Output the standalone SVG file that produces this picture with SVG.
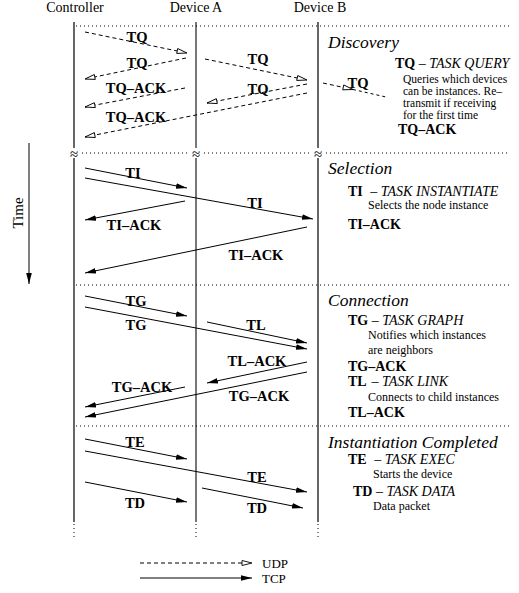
<svg xmlns="http://www.w3.org/2000/svg" width="519" height="593" viewBox="0 0 519 593">
<style>
  text { font-family: "Liberation Serif", "Times New Roman", serif; fill: #000; }
  .hdr { font-size: 14px; }
  .lbl { font-size: 14.5px; font-weight: bold; }
  .sec { font-size: 17.5px; font-style: italic; }
  .key { font-size: 14px; font-weight: bold; }
  .it { font-weight: normal; font-style: italic; }
  .desc { font-size: 12px; }
  .desc2 { font-size: 11.5px; }
  .life { stroke: #000; stroke-width: 1.2; fill: none; }
  .lifeA { stroke: #555; stroke-width: 1.6; fill: none; }
  .dot { stroke: #000; stroke-width: 1; stroke-dasharray: 1 3; fill: none; }
  .udp { stroke: #000; stroke-width: 1; stroke-dasharray: 4 3; fill: none; marker-end: url(#open); }
  .tcp { stroke: #000; stroke-width: 1; fill: none; marker-end: url(#fill); }
</style>
<defs>
  <marker id="open" markerUnits="userSpaceOnUse" markerWidth="12" markerHeight="8" refX="11" refY="4" orient="auto">
    <path d="M1,1.5 L11,4 L1,6.5 Z" fill="#fff" stroke="#000" stroke-width="0.9"/>
  </marker>
  <marker id="fill" markerUnits="userSpaceOnUse" markerWidth="12" markerHeight="8" refX="11" refY="4" orient="auto">
    <path d="M0,1.2 L11,4 L0,6.8 Z" fill="#000"/>
  </marker>
</defs>

<g id="headers">
  <text class="hdr" x="75" y="12" text-anchor="middle">Controller</text>
  <text class="hdr" x="196" y="12" text-anchor="middle">Device A</text>
  <text class="hdr" x="320" y="12" text-anchor="middle">Device B</text>
</g>

<g id="lifelines">
  <line class="life" x1="74" y1="22" x2="74" y2="522"/>
  <line class="lifeA" x1="196" y1="22" x2="196" y2="522"/>
  <line class="life" x1="318" y1="22" x2="318" y2="522"/>
  <line class="dot" x1="74" y1="524" x2="74" y2="538"/>
  <line class="dot" x1="196" y1="524" x2="196" y2="538"/>
  <line class="dot" x1="318" y1="524" x2="318" y2="538"/>
  <rect x="68" y="148" width="12" height="10" fill="#fff"/>
  <rect x="190" y="148" width="12" height="10" fill="#fff"/>
  <rect x="312" y="148" width="12" height="10" fill="#fff"/>
  <text x="74" y="159" font-size="15" text-anchor="middle">≈</text>
  <text x="196" y="159" font-size="15" text-anchor="middle">≈</text>
  <text x="318" y="159" font-size="15" text-anchor="middle">≈</text>
</g>

<g id="separators">
  <line class="dot" x1="76" y1="26" x2="510" y2="26"/>
  <line class="dot" x1="82" y1="153" x2="189" y2="153"/>
  <line class="dot" x1="204" y1="153" x2="311" y2="153"/>
  <line class="dot" x1="326" y1="153" x2="510" y2="153"/>
  <line class="dot" x1="76" y1="285" x2="510" y2="285"/>
  <line class="dot" x1="76" y1="426" x2="510" y2="426"/>
</g>

<g id="time-axis">
  <line x1="29" y1="143" x2="29" y2="284" stroke="#000" stroke-width="1" marker-end="url(#fill)"/>
  <text x="0" y="0" font-size="15" text-anchor="middle" transform="translate(23,213) rotate(-90)">Time</text>
</g>

<g id="connectors">
  <!-- Discovery (UDP) -->
  <line class="udp" x1="85" y1="32" x2="187" y2="53"/>
  <line class="udp" x1="186" y1="58" x2="85" y2="79"/>
  <line class="udp" x1="185" y1="88" x2="85" y2="107"/>
  <line class="udp" x1="307" y1="93" x2="85" y2="137"/>
  <line class="udp" x1="205" y1="59" x2="307" y2="80"/>
  <line class="udp" x1="307" y1="84" x2="207" y2="103"/>
  <line class="udp" x1="323" y1="83" x2="353" y2="89.5"/>
  <line x1="353" y1="89.5" x2="386" y2="97" stroke="#000" stroke-width="1" stroke-dasharray="3 3"/>
  <!-- Selection -->
  <line class="tcp" x1="85" y1="168" x2="187" y2="188"/>
  <line class="tcp" x1="85" y1="178" x2="313" y2="219"/>
  <line class="tcp" x1="185" y1="201" x2="85" y2="220"/>
  <line class="tcp" x1="307" y1="227" x2="85" y2="273"/>
  <!-- Connection -->
  <line class="tcp" x1="85" y1="296" x2="187" y2="316"/>
  <line class="tcp" x1="85" y1="307" x2="307" y2="349"/>
  <line class="tcp" x1="207" y1="322" x2="307" y2="343"/>
  <line class="tcp" x1="307" y1="362" x2="207" y2="383"/>
  <line class="tcp" x1="185" y1="387" x2="85" y2="407"/>
  <line class="tcp" x1="307" y1="372" x2="85" y2="417"/>
  <!-- Instantiation -->
  <line class="tcp" x1="85" y1="439" x2="187" y2="459"/>
  <line class="tcp" x1="85" y1="451" x2="307" y2="492"/>
  <line class="tcp" x1="85" y1="482" x2="187" y2="502"/>
  <line class="tcp" x1="202" y1="488" x2="303" y2="508"/>
</g>

<g id="message-labels">
  <text class="lbl" x="137" y="42" text-anchor="middle">TQ</text>
  <text class="lbl" x="137" y="68" text-anchor="middle">TQ</text>
  <text class="lbl" x="136" y="93" text-anchor="middle">TQ–ACK</text>
  <text class="lbl" x="136" y="122" text-anchor="middle">TQ–ACK</text>
  <text class="lbl" x="258" y="64" text-anchor="middle">TQ</text>
  <text class="lbl" x="258" y="94" text-anchor="middle">TQ</text>
  <text class="lbl" x="358" y="88" text-anchor="middle">TQ</text>

  <text class="lbl" x="133" y="178" text-anchor="middle">TI</text>
  <text class="lbl" x="255" y="208" text-anchor="middle">TI</text>
  <text class="lbl" x="134" y="230" text-anchor="middle">TI–ACK</text>
  <text class="lbl" x="256" y="260" text-anchor="middle">TI–ACK</text>

  <text class="lbl" x="136" y="306" text-anchor="middle">TG</text>
  <text class="lbl" x="136" y="330" text-anchor="middle">TG</text>
  <text class="lbl" x="256" y="330" text-anchor="middle">TL</text>
  <text class="lbl" x="257" y="366" text-anchor="middle">TL–ACK</text>
  <text class="lbl" x="142" y="392" text-anchor="middle">TG–ACK</text>
  <text class="lbl" x="259" y="401" text-anchor="middle">TG–ACK</text>

  <text class="lbl" x="135" y="447" text-anchor="middle">TE</text>
  <text class="lbl" x="257" y="482" text-anchor="middle">TE</text>
  <text class="lbl" x="135" y="508" text-anchor="middle">TD</text>
  <text class="lbl" x="257" y="513" text-anchor="middle">TD</text>
</g>

<g id="discovery-legend">
  <text class="sec" x="328" y="48">Discovery</text>
  <text class="key" x="395" y="68">TQ <tspan class="it">– TASK QUERY</tspan></text>
  <text class="desc2" x="403" y="83">Queries which devices</text>
  <text class="desc2" x="403" y="95">can be instances. Re–</text>
  <text class="desc2" x="403" y="107">transmit if receiving</text>
  <text class="desc2" x="403" y="119">for the first time</text>
  <text class="key" x="398" y="134">TQ–ACK</text>
</g>

<g id="selection-legend">
  <text class="sec" x="328" y="174">Selection</text>
  <text class="key" x="348" y="196">TI <tspan class="it" dx="4">– TASK INSTANTIATE</tspan></text>
  <text class="desc" x="368" y="209">Selects the node instance</text>
  <text class="key" x="348" y="229">TI–ACK</text>
</g>

<g id="connection-legend">
  <text class="sec" x="328" y="306">Connection</text>
  <text class="key" x="348" y="325">TG <tspan class="it">– TASK GRAPH</tspan></text>
  <text class="desc" x="368" y="339">Notifies which instances</text>
  <text class="desc" x="368" y="354">are neighbors</text>
  <text class="key" x="348" y="371">TG–ACK</text>
  <text class="key" x="348" y="386">TL <tspan class="it" dx="2">– TASK LINK</tspan></text>
  <text class="desc" x="368" y="401">Connects to child instances</text>
  <text class="key" x="348" y="417">TL–ACK</text>
</g>

<g id="instantiation-legend">
  <text class="sec" x="328" y="448">Instantiation Completed</text>
  <text class="key" x="348" y="464">TE <tspan class="it" dx="4">– TASK EXEC</tspan></text>
  <text class="desc" x="373" y="478">Starts the device</text>
  <text class="key" x="353" y="496">TD <tspan class="it">– TASK DATA</tspan></text>
  <text class="desc" x="373" y="510">Data packet</text>
</g>

<g id="legend">
  <line class="udp" x1="140" y1="563" x2="252" y2="563"/>
  <line class="tcp" x1="140" y1="578" x2="252" y2="578"/>
  <text x="262" y="568" font-size="13">UDP</text>
  <text x="262" y="583" font-size="13">TCP</text>
</g>
</svg>
